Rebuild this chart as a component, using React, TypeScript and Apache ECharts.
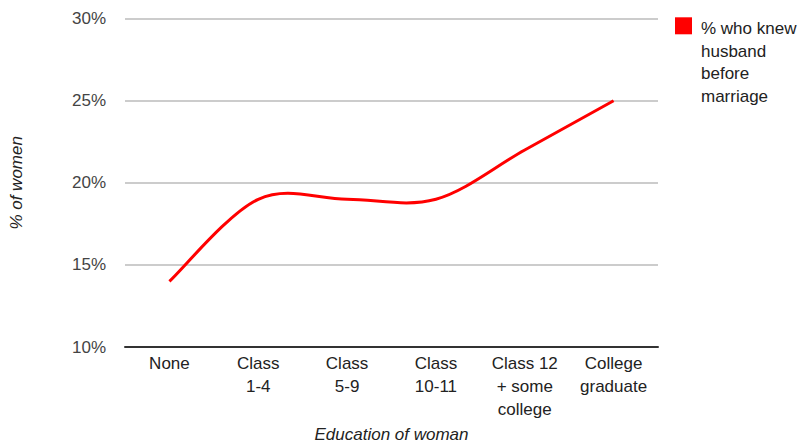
import React, { useEffect, useRef } from "react";
import * as echarts from "echarts";

const categories = [
  "None",
  "Class\n1-4",
  "Class\n5-9",
  "Class\n10-11",
  "Class 12\n+ some\ncollege",
  "College\ngraduate",
];
const seriesName = "% who knew husband before marriage";
const legendLines = ["% who knew", "husband", "before", "marriage"];
const values = [14, 19, 19, 19, 22, 25];
const yMin = 10;
const yMax = 30;
const yInterval = 5;

const FONT = "'Liberation Sans', Arial, sans-serif";

export default function App() {
  const ref = useRef<HTMLDivElement>(null);
  useEffect(() => {
    if (!ref.current) return;
    const chart = echarts.init(ref.current, null, { renderer: "svg" });
    const seriesData = values.map((v, i) => [i, v]);
    chart.setOption({
      animation: false,
      textStyle: { fontFamily: FONT },
      grid: {
        left: 125,
        right: 140,
        top: 18.7,
        bottom: 95,
        containLabel: false,
        outerBoundsMode: "none",
      },
      legend: {
        show: true,
        left: 675,
        top: -52.5,
        padding: 0,
        itemWidth: 17,
        itemHeight: 17,
        icon: "rect",
        formatter: () =>
          "{g| }\n{g| }\n{g| }\n" +
          legendLines.map((l) => `{t|${l}}`).join("\n"),
        textStyle: {
          fontFamily: FONT,
          fontSize: 17,
          color: "#222222",
          padding: [0, 0, 0, 4],
          rich: {
            g: { fontFamily: FONT, fontSize: 17, lineHeight: 24.4 },
            t: {
              fontFamily: FONT,
              fontSize: 17,
              lineHeight: 22.7,
              color: "#222222",
            },
          },
        },
        data: [{ name: seriesName, itemStyle: { color: "#ff0000" } }],
      },
      xAxis: {
        type: "category",
        data: categories,
        boundaryGap: true,
        name: "Education of woman",
        nameLocation: "middle",
        nameGap: 72,
        nameTextStyle: {
          fontFamily: FONT,
          fontSize: 17,
          lineHeight: 17,
          fontStyle: "italic",
          color: "#222222",
        },
        axisLine: { show: true, lineStyle: { color: "#333333", width: 2 } },
        axisTick: { show: false },
        axisLabel: {
          fontFamily: FONT,
          fontSize: 17,
          color: "#222222",
          lineHeight: 23,
          margin: 5,
          interval: 0,
        },
      },
      yAxis: {
        type: "value",
        min: yMin,
        max: yMax,
        interval: yInterval,
        name: "% of women",
        nameLocation: "middle",
        nameGap: 100,
        nameTextStyle: {
          fontFamily: FONT,
          fontSize: 17,
          fontStyle: "italic",
          color: "#222222",
        },
        axisLine: { show: false },
        axisTick: { show: false },
        axisLabel: {
          fontFamily: FONT,
          fontSize: 17,
          color: "#444444",
          margin: 19,
          formatter: "{value}%",
        },
        splitLine: { show: true, lineStyle: { color: "#cccccc", width: 2 } },
      },
      series: [
        {
          name: seriesName,
          type: "custom",
          coordinateSystem: "cartesian2d",
          encode: { x: 0, y: 1 },
          data: seriesData,
          itemStyle: { color: "#ff0000" },
          clip: false,
          renderItem: (params: any, api: any) => {
            if (params.dataIndex !== 0) return null;
            const pts = values.map((v, i) => api.coord([i, v]));
            const n = pts.length;
            const k = 1 / 6;
            let d = `M${pts[0][0]},${pts[0][1]}`;
            for (let i = 0; i < n - 1; i++) {
              const p0 = pts[Math.max(0, i - 1)];
              const p1 = pts[i];
              const p2 = pts[i + 1];
              const p3 = pts[Math.min(n - 1, i + 2)];
              const c1x = p1[0] + (p2[0] - p0[0]) * k;
              const c1y = p1[1] + (p2[1] - p0[1]) * k;
              const c2x = p2[0] - (p3[0] - p1[0]) * k;
              const c2y = p2[1] - (p3[1] - p1[1]) * k;
              d += ` C${c1x},${c1y} ${c2x},${c2y} ${p2[0]},${p2[1]}`;
            }
            return {
              type: "path",
              shape: { pathData: d },
              style: { stroke: "#ff0000", lineWidth: 3, fill: "none" },
            };
          },
        },
      ],
    });
    return () => chart.dispose();
  }, []);
  return (
    <div
      ref={ref}
      style={{ width: 798, height: 442, position: "absolute", left: 0, top: 0 }}
    />
  );
}
